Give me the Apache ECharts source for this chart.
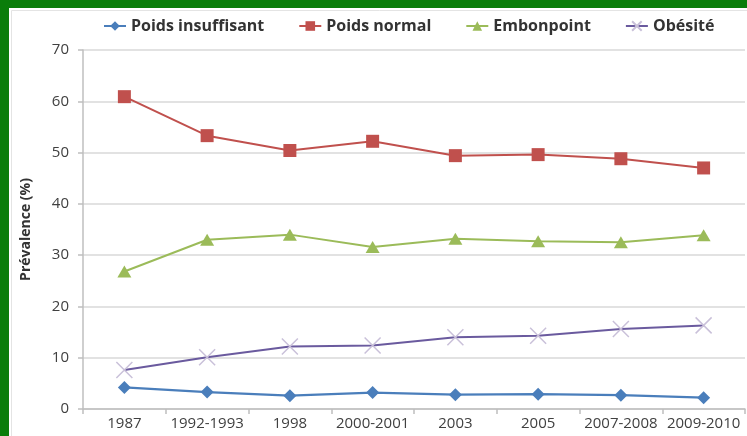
<!DOCTYPE html>
<html>
<head>
<meta charset="utf-8">
<script src="https://cdn.jsdelivr.net/npm/echarts@6/dist/echarts.min.js"></script>
<style>html,body{margin:0;padding:0;background:#fff}#c{width:747px;height:436px}</style>
</head>
<body>
<div id="c"></div>
<script>
const categories = ['1987','1992-1993','1998','2000-2001','2003','2005','2007-2008','2009-2010'];
const poidsInsuffisant = [4.2, 3.3, 2.6, 3.2, 2.8, 2.9, 2.7, 2.2];
const poidsNormal = [60.9, 53.3, 50.4, 52.2, 49.4, 49.6, 48.8, 47.0];
const embonpoint = [26.8, 33.0, 34.0, 31.6, 33.2, 32.7, 32.5, 33.9];
const obesite = [7.6, 10.1, 12.2, 12.4, 14.0, 14.3, 15.6, 16.3];
const yTicks = {min: 0, max: 70, interval: 10};

const chart = echarts.init(document.getElementById('c'), null, {renderer: 'canvas'});
const font = '"Open Sans", sans-serif';
chart.setOption({
  animation: false,
  backgroundColor: '#ffffff',
  graphic: [
    {type: 'rect', left: 0, top: 0, shape: {width: 747, height: 8}, style: {fill: '#0a7d0a'}, z: 100},
    {type: 'rect', left: 0, top: 0, shape: {width: 9, height: 436}, style: {fill: '#0a7d0a'}, z: 100},
    {type: 'rect', left: 9, top: 8, shape: {width: 740, height: 430}, style: {fill: 'none', stroke: '#e4e4e4', lineWidth: 1}, z: 99}
  ],
  legend: {
    top: 13,
    left: 98,
    itemWidth: 22,
    itemHeight: 12,
    itemGap: 34,
    textStyle: {fontFamily: font, fontWeight: 'bold', fontSize: 16, color: '#333333'},
    data: ['Poids insuffisant', 'Poids normal', 'Embonpoint', 'Obésité']
  },
  grid: {left: 83, right: 2, top: 50, bottom: 27, containLabel: false},
  xAxis: {
    type: 'category',
    data: categories,
    boundaryGap: true,
    axisLine: {lineStyle: {color: '#bfbfbf', width: 1.5}},
    axisTick: {show: true, length: 5, lineStyle: {color: '#bfbfbf', width: 1.5}},
    axisLabel: {fontFamily: font, fontSize: 15, color: '#404040', margin: 7, interval: 0}
  },
  yAxis: {
    type: 'value',
    min: yTicks.min, max: yTicks.max, interval: yTicks.interval,
    name: 'Prévalence (%)',
    nameLocation: 'middle',
    nameGap: 50,
    nameRotate: 90,
    nameTextStyle: {fontFamily: font, fontWeight: 'bold', fontSize: 14, color: '#333333'},
    axisLine: {show: true, lineStyle: {color: '#bfbfbf', width: 1.5}},
    axisTick: {show: true, length: 5, lineStyle: {color: '#bfbfbf', width: 1.5}},
    axisLabel: {fontFamily: font, fontSize: 15, color: '#404040', margin: 14},
    splitLine: {lineStyle: {color: '#d9d9d9', width: 1.5}}
  },
  series: [
    {
      name: 'Poids insuffisant', type: 'line', data: poidsInsuffisant,
      symbol: 'diamond', symbolSize: [13, 13],
      lineStyle: {color: '#4a7ebb', width: 2.2},
      itemStyle: {color: '#4a7ebb'}
    },
    {
      name: 'Poids normal', type: 'line', data: poidsNormal,
      symbol: 'rect', symbolSize: 13,
      lineStyle: {color: '#c0504d', width: 2},
      itemStyle: {color: '#c0504d'}
    },
    {
      name: 'Embonpoint', type: 'line', data: embonpoint,
      symbol: 'triangle', symbolSize: [14, 12],
      lineStyle: {color: '#9bbb59', width: 2},
      itemStyle: {color: '#9bbb59'}
    },
    {
      name: 'Obésité', type: 'line', data: obesite,
      symbol: 'path://M0,0L10,10M10,0L0,10', symbolSize: 16,
      lineStyle: {color: '#6a5a9e', width: 2},
      itemStyle: {color: 'transparent', borderColor: '#c9c0d9', borderWidth: 1.5}
    }
  ]
});
</script>
</body>
</html>
